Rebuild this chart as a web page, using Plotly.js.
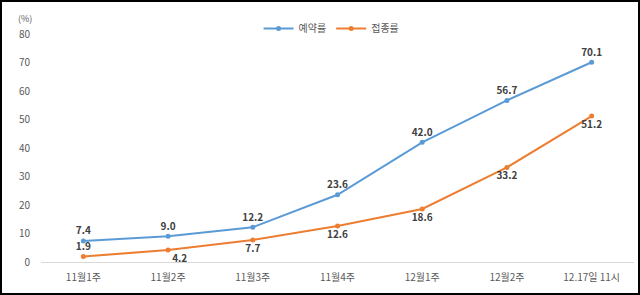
<!DOCTYPE html>
<html><head><meta charset="utf-8">
<script src="https://cdn.plot.ly/plotly-3.0.1.min.js"></script>
<style>
html,body{margin:0;padding:0;background:#fff;}
#wrap{position:absolute;left:0;top:0;width:640px;height:295px;box-sizing:border-box;border:2px solid #000;}
#chart{position:absolute;left:0;top:0;width:640px;height:295px;}
</style></head>
<body>
<div id="chart"></div>
<div id="wrap"></div>
<script>
const categories = ['11월1주','11월2주','11월3주','11월4주','12월1주','12월2주','12.17일 11시'];
const reservationRate = [7.4, 9.0, 12.2, 23.6, 42.0, 56.7, 70.1];
const vaccinationRate = [1.9, 4.2, 7.7, 12.6, 18.6, 33.2, 51.2];
const seriesNames = ['예약률','접종률'];
const yTicks = [0,10,20,30,40,50,60,70,80];

const font = '"Noto Sans CJK KR", "Noto Sans", sans-serif';
const labelFont = {family: font, size: 10, color: '#404040', weight: 'bold'};

const traces = [
  {x: categories, y: reservationRate, name: seriesNames[0], type: 'scatter', mode: 'lines+markers+text',
   line: {color: '#5B9BD5', width: 2}, marker: {color: '#5B9BD5', size: 5},
   text: reservationRate.map(v => v.toFixed(1)), textposition: 'top center', textfont: labelFont,
   cliponaxis: false},
  {x: categories, y: vaccinationRate, name: seriesNames[1], type: 'scatter', mode: 'lines+markers+text',
   line: {color: '#ED7D31', width: 2}, marker: {color: '#ED7D31', size: 5},
   text: vaccinationRate.map(v => v.toFixed(1)),
   textposition: ['top center','bottom right','bottom center','bottom center','bottom center','bottom center','bottom center'],
   textfont: labelFont, cliponaxis: false}
];

const layout = {
  width: 640, height: 295,
  margin: {l: 41, r: 6, t: 33.5, b: 33.3},
  paper_bgcolor: '#fff', plot_bgcolor: '#fff',
  font: {family: font, size: 10, color: '#595959'},
  showlegend: true,
  legend: {orientation: 'h', x: 0.49, xanchor: 'center', y: 1.024, yanchor: 'middle',
           font: {family: font, size: 10, color: '#595959'}, itemwidth: 30, bgcolor: 'rgba(0,0,0,0)'},
  xaxis: {type: 'category', range: [-0.5, 6.5], showgrid: false, zeroline: false,
          showline: true, linecolor: '#D9D9D9', linewidth: 1, ticks: '', ticklabelstandoff: 6,
          tickfont: {family: font, size: 10, color: '#595959'}, fixedrange: true},
  yaxis: {range: [0, 80], tickvals: yTicks, showgrid: false, zeroline: false, showline: false,
          ticks: '', ticklabelstandoff: 10,
          tickfont: {family: font, size: 10, color: '#595959'}, fixedrange: true},
  annotations: [
    {xref: 'paper', yref: 'paper', x: -0.027, y: 1.07, xanchor: 'center', yanchor: 'middle',
     text: '(%)', showarrow: false, font: {family: font, size: 9, color: '#595959'}}
  ]
};

Plotly.newPlot('chart', traces, layout, {displayModeBar: false, staticPlot: true});
</script>
</body></html>
